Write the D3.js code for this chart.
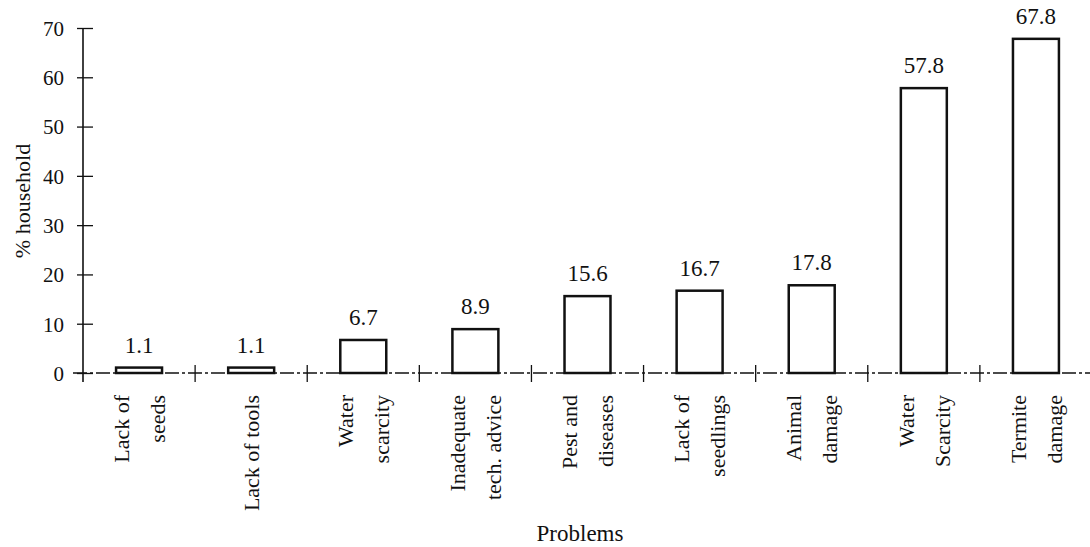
<!DOCTYPE html>
<html>
<head>
<meta charset="utf-8">
<script src="https://cdn.jsdelivr.net/npm/d3@7"></script>
<style>
  html, body { margin: 0; padding: 0; background: #fff; }
  svg { display: block; }
  text { font-family: "Liberation Serif", "Times New Roman", serif; fill: #111; }
</style>
</head>
<body>
<svg id="chart" width="1090" height="547"></svg>
<script>
// ---- data ----
const categories = [
  ["Lack of", "seeds"],
  ["Lack of tools"],
  ["Water", "scarcity"],
  ["Inadequate", "tech. advice"],
  ["Pest and", "diseases"],
  ["Lack of", "seedlings"],
  ["Animal", "damage"],
  ["Water", "Scarcity"],
  ["Termite", "damage"]
];
const values = [1.1, 1.1, 6.7, 8.9, 15.6, 16.7, 17.8, 57.8, 67.8];
const yTicks = [0, 10, 20, 30, 40, 50, 60, 70];
const yTitle = "% household";
const xTitle = "Problems";

// ---- layout ----
const svg = d3.select("#chart");
const plotLeft = 83, plotRight = 1092, plotTop = 28, plotBottom = 373;
const ids = categories.map((c, i) => i);

const x = d3.scaleBand().domain(ids).range([plotLeft, plotRight])
  .paddingInner(0.59).paddingOuter(0.295);
const y = d3.scaleLinear().domain([0, 70]).range([plotBottom, plotTop]);
const step = x.step();

const ink = "#111";

// bars
svg.append("g").selectAll("rect").data(values).join("rect")
  .attr("x", (d, i) => x(i))
  .attr("y", d => y(d))
  .attr("width", x.bandwidth())
  .attr("height", d => y(0) - y(d))
  .attr("fill", "#fff")
  .attr("stroke", ink)
  .attr("stroke-width", 2.5);

// x axis line (scanned dash-dot look)
svg.append("line")
  .attr("x1", plotLeft - 10).attr("x2", 1090)
  .attr("y1", y(0)).attr("y2", y(0))
  .attr("stroke", ink).attr("stroke-width", 1.6)
  .attr("stroke-dasharray", "14,3,3,3");

// x ticks at band boundaries
const bounds = d3.range(1, categories.length).map(i => plotLeft + i * step);
svg.append("g").selectAll("line").data(bounds).join("line")
  .attr("x1", d => d).attr("x2", d => d)
  .attr("y1", y(0) - 8).attr("y2", y(0) + 9)
  .attr("stroke", ink).attr("stroke-width", 1.3);

// y axis
const yAxis = d3.axisLeft(y).tickValues(yTicks).tickSize(0).tickPadding(0);
const gy = svg.append("g").attr("transform", `translate(${plotLeft},0)`).call(yAxis);
gy.select(".domain").remove();
gy.selectAll(".tick text")
  .attr("x", -19).attr("dy", "0.35em")
  .style("font-size", "21px").style("font-family", "Liberation Serif, serif")
  .attr("fill", ink);
gy.selectAll(".tick").append("line")
  .attr("x1", -6).attr("x2", 10).attr("y1", 0).attr("y2", 0)
  .attr("stroke", ink).attr("stroke-width", 1.3);
svg.append("line")
  .attr("x1", plotLeft).attr("x2", plotLeft)
  .attr("y1", y(70)).attr("y2", y(0) + 9)
  .attr("stroke", ink).attr("stroke-width", 1.6);

// value labels
svg.append("g").selectAll("text").data(values).join("text")
  .attr("x", (d, i) => x(i) + x.bandwidth() / 2)
  .attr("y", d => y(d) - 15)
  .attr("text-anchor", "middle")
  .style("font-size", "23px")
  .text(d => d.toFixed(1));

// category labels (rotated)
const lg = svg.append("g");
categories.forEach((lines, i) => {
  const cx = x(i) + x.bandwidth() / 2;
  const offs = lines.length === 1 ? [0] : [-18, 18];
  lines.forEach((t, j) => {
    lg.append("text")
      .attr("transform", `translate(${cx + offs[j]},395) rotate(-90)`)
      .attr("text-anchor", "end")
      .attr("dy", "0.35em")
      .style("font-size", "22px")
      .text(t);
  });
});

// axis titles
svg.append("text")
  .attr("transform", "translate(22,201) rotate(-90)")
  .attr("text-anchor", "middle").attr("dy", "0.35em")
  .style("font-size", "22px")
  .text(yTitle);
svg.append("text")
  .attr("x", 580).attr("y", 541)
  .attr("text-anchor", "middle")
  .style("font-size", "23px")
  .text(xTitle);
</script>
</body>
</html>
